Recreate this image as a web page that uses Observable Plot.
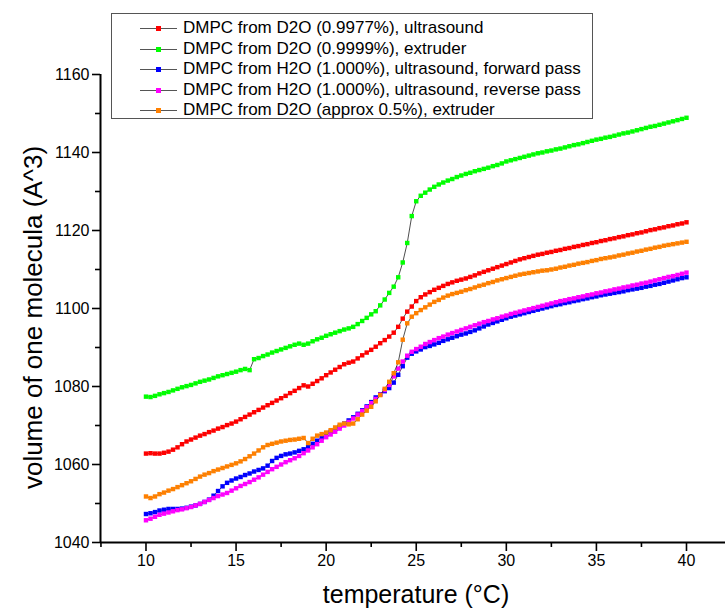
<!DOCTYPE html>
<html>
<head>
<meta charset="utf-8">
<script src="https://cdn.jsdelivr.net/npm/d3@7"></script>
<script src="https://cdn.jsdelivr.net/npm/@observablehq/plot@0.6"></script>
<style>
  html, body { margin: 0; padding: 0; background: #fff; }
  #wrap { position: relative; width: 726px; height: 616px; font-family: "Liberation Sans", Arial, sans-serif; }
  #legend { position: absolute; left: 111px; top: 13px; width: 482px; height: 106px; border: 1px solid #555; background: #fff; box-sizing: border-box; padding-top: 4px; }
  .row { height: 20.5px; display: flex; align-items: center; font-size: 17px; color: #000; white-space: nowrap; }
  .sym { position: relative; width: 37px; height: 20px; margin-left: 28px; margin-right: 6px; }
  .sym .ln { position: absolute; left: 0; right: 0; top: 10px; height: 1px; background: #555; }
  .sym .sq { position: absolute; left: 16px; top: 8px; width: 5px; height: 5px; }
</style>
</head>
<body>
<div id="wrap"><div id="chart"></div><div id="legend"></div></div>
<script>
// ---- data ----
const temps = [
  10,10.25,10.5,10.75,11,11.25,11.5,11.75,12,12.25,
  12.5,12.75,13,13.25,13.5,13.75,14,14.25,14.5,14.75,
  15,15.25,15.5,15.75,16,16.25,16.5,16.75,17,17.25,
  17.5,17.75,18,18.25,18.5,18.75,19,19.25,19.5,19.75,
  20,20.25,20.5,20.75,21,21.25,21.5,21.75,22,22.25,
  22.5,22.75,23,23.25,23.5,23.75,24,24.25,24.5,24.75,
  25,25.25,25.5,25.75,26,26.25,26.5,26.75,27,27.25,
  27.5,27.75,28,28.25,28.5,28.75,29,29.25,29.5,29.75,
  30,30.25,30.5,30.75,31,31.25,31.5,31.75,32,32.25,
  32.5,32.75,33,33.25,33.5,33.75,34,34.25,34.5,34.75,
  35,35.25,35.5,35.75,36,36.25,36.5,36.75,37,37.25,
  37.5,37.75,38,38.25,38.5,38.75,39,39.25,39.5,39.75,
  40
];
const d2oUltrasound = [
  1062.8,1062.9,1062.8,1062.8,1063.0,1063.3,1063.8,1064.4,1065.2,1065.9,
  1066.4,1066.9,1067.4,1067.8,1068.3,1068.7,1069.2,1069.6,1070.1,1070.5,
  1071.0,1071.6,1072.2,1072.8,1073.4,1074.0,1074.6,1075.2,1075.8,1076.4,
  1077.0,1077.6,1078.3,1078.9,1079.6,1080.3,1080.0,1080.7,1081.4,1082.1,
  1082.9,1083.6,1084.3,1085.0,1085.7,1086.1,1086.4,1087.2,1088.0,1088.7,
  1089.4,1090.2,1091.1,1091.9,1092.8,1093.8,1095.3,1097.4,1099.2,1100.5,
  1101.9,1102.9,1103.6,1104.2,1104.8,1105.3,1105.8,1106.3,1106.7,1107.1,
  1107.4,1107.7,1108.1,1108.5,1109.0,1109.4,1109.8,1110.2,1110.6,1111.0,
  1111.4,1111.8,1112.2,1112.6,1112.9,1113.2,1113.5,1113.8,1114.0,1114.3,
  1114.5,1114.8,1115.0,1115.3,1115.5,1115.8,1116.0,1116.3,1116.5,1116.8,
  1117.0,1117.3,1117.5,1117.8,1118.0,1118.3,1118.5,1118.8,1119.0,1119.3,
  1119.5,1119.8,1120.1,1120.3,1120.6,1120.8,1121.1,1121.3,1121.6,1121.8,
  1122.1
];
const d2oExtruder = [
  1077.4,1077.3,1077.6,1078.0,1078.3,1078.6,1079.0,1079.4,1079.8,1080.1,
  1080.4,1080.8,1081.2,1081.5,1081.8,1082.2,1082.6,1082.9,1083.2,1083.5,
  1083.8,1084.2,1084.5,1084.2,1087.0,1087.3,1087.8,1088.2,1088.7,1089.1,
  1089.5,1089.9,1090.3,1090.7,1091.0,1090.7,1091.0,1091.6,1092.1,1092.5,
  1093.0,1093.4,1093.8,1094.2,1094.6,1094.9,1095.3,1096.0,1096.8,1097.6,
  1098.5,1099.3,1100.8,1102.3,1104.0,1105.6,1108.0,1111.8,1116.8,1123.7,
  1127.5,1128.9,1129.7,1130.5,1131.2,1131.8,1132.3,1132.8,1133.2,1133.7,
  1134.1,1134.5,1134.8,1135.2,1135.5,1135.8,1136.1,1136.5,1136.8,1137.2,
  1137.7,1138.0,1138.3,1138.6,1138.9,1139.2,1139.5,1139.8,1140.0,1140.3,
  1140.5,1140.8,1141.0,1141.3,1141.6,1141.9,1142.1,1142.4,1142.7,1143.0,
  1143.3,1143.5,1143.8,1144.0,1144.3,1144.6,1144.9,1145.1,1145.4,1145.7,
  1146.0,1146.3,1146.6,1146.8,1147.1,1147.4,1147.7,1148.0,1148.3,1148.6,
  1148.9
];
const h2oForward = [
  1047.3,1047.5,1047.8,1048.2,1048.4,1048.6,1048.6,1048.6,1048.7,1048.9,
  1049.2,1049.5,1049.9,1050.4,1051.0,1052.0,1053.2,1054.4,1055.3,1055.9,
  1056.4,1056.8,1057.3,1057.7,1058.2,1058.6,1059.0,1059.7,1060.9,1061.7,
  1062.2,1062.6,1062.8,1063.1,1063.5,1063.9,1064.5,1065.3,1066.1,1066.9,
  1067.7,1068.4,1069.1,1069.7,1070.5,1071.3,1072.1,1073.0,1073.9,1074.9,
  1076.0,1077.2,1078.0,1078.8,1079.6,1081.0,1083.0,1085.2,1087.4,1088.4,
  1089.0,1089.5,1090.1,1090.4,1090.8,1091.2,1091.7,1092.1,1092.5,1092.9,
  1093.3,1093.6,1094.0,1094.4,1094.9,1095.4,1095.9,1096.3,1096.7,1097.1,
  1097.5,1097.9,1098.2,1098.5,1098.8,1099.1,1099.4,1099.7,1100.0,1100.3,
  1100.6,1100.9,1101.1,1101.4,1101.6,1101.9,1102.1,1102.4,1102.6,1102.9,
  1103.1,1103.4,1103.6,1103.8,1104.0,1104.2,1104.4,1104.7,1104.9,1105.1,
  1105.3,1105.6,1105.8,1106.1,1106.3,1106.6,1106.9,1107.2,1107.5,1107.8,
  1108.0
];
const h2oReverse = [
  1045.7,1046.1,1046.6,1047.1,1047.4,1047.7,1048.0,1048.3,1048.5,1048.8,
  1049.1,1049.5,1049.9,1050.4,1050.9,1051.4,1051.9,1052.3,1052.7,1053.3,
  1053.9,1054.5,1055.0,1055.5,1056.1,1056.7,1057.4,1058.1,1058.8,1059.4,
  1060.0,1060.6,1061.1,1061.6,1062.2,1062.9,1063.6,1064.4,1065.2,1066.1,
  1067.0,1067.7,1068.4,1069.2,1070.0,1070.9,1071.8,1072.8,1073.7,1074.7,
  1075.7,1076.8,1077.9,1079.1,1080.4,1082.6,1084.6,1086.4,1087.9,1088.9,
  1089.6,1090.2,1090.9,1091.4,1091.9,1092.4,1092.8,1093.3,1093.7,1094.1,
  1094.5,1094.9,1095.3,1095.7,1096.1,1096.5,1096.8,1097.2,1097.5,1097.9,
  1098.2,1098.6,1098.9,1099.2,1099.5,1099.8,1100.1,1100.4,1100.7,1101.0,
  1101.3,1101.6,1101.9,1102.1,1102.4,1102.6,1102.9,1103.1,1103.4,1103.6,
  1103.9,1104.1,1104.4,1104.6,1104.9,1105.1,1105.4,1105.6,1105.9,1106.1,
  1106.4,1106.6,1106.9,1107.2,1107.5,1107.8,1108.1,1108.3,1108.6,1108.9,
  1109.2
];
const d2oApprox = [
  1051.8,1051.4,1051.8,1052.4,1052.8,1053.3,1053.7,1054.2,1054.7,1055.2,
  1055.7,1056.3,1056.9,1057.4,1057.8,1058.3,1058.7,1059.1,1059.5,1059.9,
  1060.3,1060.8,1061.4,1062.1,1062.8,1063.6,1064.4,1065.0,1065.3,1065.6,
  1065.9,1066.1,1066.3,1066.4,1066.6,1066.8,1065.5,1066.6,1067.4,1067.8,
  1068.2,1068.8,1069.5,1070.2,1070.5,1070.3,1070.5,1071.6,1072.8,1073.8,
  1074.8,1076.2,1077.8,1079.4,1081.2,1083.4,1086.2,1092.0,1096.2,1097.9,
  1098.8,1099.6,1100.3,1101.0,1101.7,1102.2,1102.8,1103.3,1103.7,1104.0,
  1104.3,1104.7,1105.0,1105.4,1105.8,1106.1,1106.5,1106.8,1107.2,1107.5,
  1107.8,1108.1,1108.4,1108.7,1108.9,1109.1,1109.3,1109.5,1109.7,1109.8,
  1110.0,1110.2,1110.5,1110.7,1111.0,1111.2,1111.5,1111.7,1111.9,1112.2,
  1112.4,1112.7,1112.9,1113.1,1113.3,1113.6,1113.8,1114.1,1114.3,1114.6,
  1114.8,1115.1,1115.3,1115.6,1115.8,1116.1,1116.3,1116.5,1116.7,1116.9,
  1117.1
];
const seriesNames = [
  "DMPC from D2O (0.9977%), ultrasound",
  "DMPC from D2O (0.9999%), extruder",
  "DMPC from H2O (1.000%), ultrasound, forward pass",
  "DMPC from H2O (1.000%), ultrasound, reverse pass",
  "DMPC from D2O (approx 0.5%), extruder"
];
const seriesColors = ["#ff0000", "#00ff00", "#0000ff", "#ff00ff", "#ff8000"];
const seriesValues = [d2oUltrasound, d2oExtruder, h2oForward, h2oReverse, d2oApprox];
const xMajorTicks = [10, 15, 20, 25, 30, 35, 40];
const xMinorTicks = [7.5, 12.5, 17.5, 22.5, 27.5, 32.5, 37.5];
const yMajorTicks = [1040, 1060, 1080, 1100, 1120, 1140, 1160];
const yMinorTicks = [1050, 1070, 1090, 1110, 1130, 1150];
const xDomain = [7.475, 42.165];
const yDomain = [1040, 1160];
const xTitle = "temperature (°C)";
const yTitle = "volume of one molecula (A^3)";

// ---- chart ----
const font = '"Liberation Sans", Arial, sans-serif';
const seriesMarks = seriesNames.flatMap((name, k) => {
  const rows = temps.map((t, i) => ({ t, v: seriesValues[k][i], name }));
  return [
    Plot.line(rows, { x: "t", y: "v", stroke: "#222", strokeWidth: 0.8 }),
    Plot.dot(rows, { x: "t", y: "v", symbol: "square", r: 2.5, fill: seriesColors[k], stroke: "none" })
  ];
});

const chart = Plot.plot({
  width: 726,
  height: 616,
  marginLeft: 100,
  marginRight: 1,
  marginTop: 74,
  marginBottom: 74,
  style: { fontFamily: font, background: "#fff", color: "#000" },
  x: { domain: xDomain },
  y: { domain: yDomain },
  marks: [
    Plot.axisX({ ticks: xMajorTicks, tickSize: 9, tickPadding: 3, fontSize: 16, tickFormat: d => String(d), label: null, strokeWidth: 1.6 }),
    Plot.axisX({ ticks: xMinorTicks, tickSize: 5, tickFormat: () => "", label: null, strokeWidth: 1.6 }),
    Plot.axisY({ ticks: yMajorTicks, tickSize: 8, tickPadding: 3, fontSize: 16, tickFormat: d => String(d), label: null, strokeWidth: 1.6 }),
    Plot.axisY({ ticks: yMinorTicks, tickSize: 5, tickFormat: () => "", label: null, strokeWidth: 1.6 }),
    Plot.ruleY([yDomain[0]], { stroke: "#000", strokeWidth: 2 }),
    Plot.ruleX([xDomain[0]], { stroke: "#000", strokeWidth: 2 }),
    ...seriesMarks,
    Plot.text([xTitle], { frameAnchor: "bottom", dx: 3, dy: 60, fontSize: 25, textAnchor: "middle", fill: "#000" }),
    Plot.text([yTitle], { frameAnchor: "left", dx: -67, dy: 9, rotate: -90, fontSize: 26, textAnchor: "middle", fill: "#000" })
  ]
});
document.getElementById("chart").appendChild(chart);

// ---- legend ----
const legend = document.getElementById("legend");
seriesNames.forEach((name, k) => {
  const row = document.createElement("div");
  row.className = "row";
  row.innerHTML = `<span class="sym"><span class="ln"></span><span class="sq" style="background:${seriesColors[k]}"></span></span><span>${name}</span>`;
  legend.appendChild(row);
});
</script>
</body>
</html>
